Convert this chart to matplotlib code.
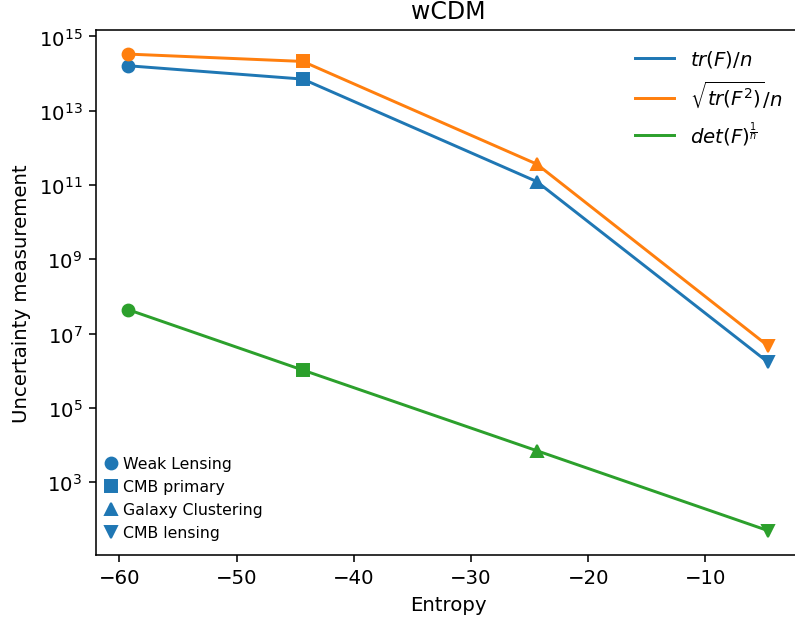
import matplotlib
matplotlib.use("Agg")
import matplotlib.pyplot as plt
from matplotlib.lines import Line2D

# Data
entropy = [-59.23, -44.35, -24.39, -4.65]
probes = ["Weak Lensing", "CMB primary", "Galaxy Clustering", "CMB lensing"]
probe_markers = ["o", "s", "^", "v"]
trace_n = [1.62e14, 7.1e13, 1.24e11, 1.69e6]
sqrt_tr2_n = [3.34e14, 2.12e14, 3.66e11, 4.66e6]
det_root = [4.42e7, 1.05e6, 7.1e3, 50.0]
series_labels = [r"$tr(F)/n$", r"$\sqrt{tr(F^2)}/n$", r"$det(F)^{\frac{1}{n}}$"]
series_colors = ["C0", "C1", "C2"]

fig = plt.figure(figsize=(5.6, 4.38), dpi=142)
ax = fig.add_axes([0.1211, 0.1069, 1.0063 - 0.1211, 0.9498 - 0.1069])

series = [trace_n, sqrt_tr2_n, det_root]
line_handles = []
for vals, lab, col in zip(series, series_labels, series_colors):
    h, = ax.plot(entropy, vals, color=col, label=lab)
    line_handles.append(h)
    for xi, yi, mk in zip(entropy, vals, probe_markers):
        ax.plot([xi], [yi], marker=mk, color=col, linestyle="none")

ax.set_yscale("log")
ax.set_yticks([1e3, 1e5, 1e7, 1e9, 1e11, 1e13, 1e15])
ax.yaxis.set_minor_locator(matplotlib.ticker.NullLocator())
ax.set_xticks([-60, -50, -40, -30, -20, -10])
ax.spines["right"].set_visible(False)

ax.set_title("wCDM")
ax.set_xlabel("Entropy")
ax.set_ylabel("Uncertainty measurement")

leg1 = ax.legend(handles=line_handles, loc="upper right", frameon=False)
ax.add_artist(leg1)

marker_handles = [Line2D([], [], color="C0", marker=m, linestyle="none") for m in probe_markers]
ax.legend(handles=marker_handles, labels=probes, loc="lower left",
          bbox_to_anchor=(0.0, 0.012), borderaxespad=0.25, borderpad=0.26,
          handlelength=0.8, handletextpad=0.38, labelspacing=0.5,
          fontsize=8, frameon=False)

fig.savefig("out.png", dpi=142)
